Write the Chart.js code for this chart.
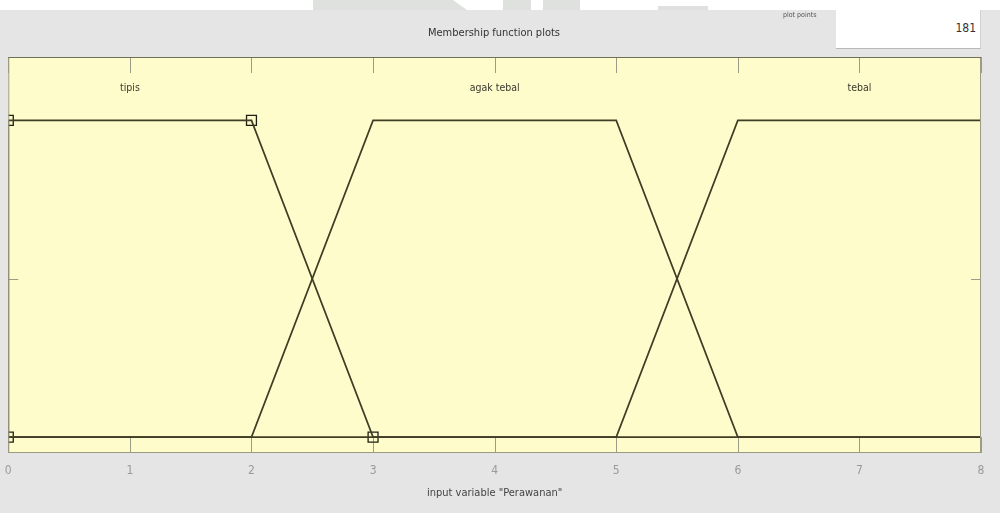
<!DOCTYPE html>
<html>
<head>
<meta charset="utf-8">
<script src="https://cdn.jsdelivr.net/npm/chart.js@4.4.1/dist/chart.umd.min.js"></script>
<style>
  html, body { margin: 0; padding: 0; }
  body { width: 1000px; height: 513px; background: #e5e5e5; position: relative; overflow: hidden;
         font-family: 'Liberation Sans Narrow', 'DejaVu Sans Condensed', 'Liberation Sans', sans-serif; }
  #topstrip { position: absolute; left: 0; top: 0; width: 1000px; height: 10px; background: #ffffff; }
  .shade { position: absolute; top: 0; height: 10px; background: #dfe1de; }
  #wrap { position: absolute; left: 0; top: 0; width: 1000px; height: 513px; }
  #figtitle { position: absolute; left: 0; width: 988px; top: 26px; text-align: center; font-size: 11px; color: #333; }
  #pplabel { position: absolute; left: 783px; top: 11px; font-size: 7px; color: #555; }
  #ppbox { position: absolute; left: 836px; top: 10px; width: 144px; height: 38px; background: #fff;
           border-bottom: 1px solid #b8b8b8; border-right: 1px solid #d0d0d0; }
  #ppval { position: absolute; right: 4px; top: 11px; font-size: 12px; color: #333; }
</style>
</head>
<body>
<div id="topstrip">
  <div class="shade" style="left:313px;width:140px;"></div>
  <div class="shade" style="left:453px;width:14px;clip-path:polygon(0 0,100% 100%,0 100%);"></div>
  <div class="shade" style="left:503px;width:28px;"></div>
  <div class="shade" style="left:543px;width:37px;"></div>
  <div class="shade" style="left:658px;width:50px;top:6px;height:4px;"></div>
</div>
<div id="wrap"><canvas id="mf-chart" width="1000" height="513"></canvas></div>
<div id="figtitle">Membership function plots</div>
<div id="pplabel">plot points</div>
<div id="ppbox"><span id="ppval">181</span></div>

<script>
// input range and ticks
const xMin = 0;
const xMax = 8;
const xTicks = [0, 1, 2, 3, 4, 5, 6, 7, 8];
const yTicks = [0, 0.5, 1];
const inputName = 'input variable "Perawanan"';

// membership functions (trapmf params) and their outlines
const mfNames = ['tipis', 'agak tebal', 'tebal'];
const mfParams = [[0, 0, 2, 3], [2, 3, 5, 6], [5, 6, 8, 8]];
const tipisX = [0, 0, 2, 3, 8];
const tipisY = [0, 1, 1, 0, 0];
const agakX = [0, 2, 3, 5, 6, 8];
const agakY = [0, 0, 1, 1, 0, 0];
const tebalX = [0, 5, 6, 8];
const tebalY = [0, 0, 1, 1];
// edit handles of the selected function (tipis)
const handleX = [0, 0, 2, 3];
const handleY = [0, 1, 1, 0];

function toPoints(xs, ys) {
  return xs.map(function (x, i) { return { x: x, y: ys[i] }; });
}

const lineColor = '#3e3d25';
const frameColor = '#9c9c86';
const narrowFont = '"Liberation Sans Narrow", "DejaVu Sans Condensed", sans-serif';

// yellow axes background, frame, inward ticks and MF names
const axesDecor = {
  id: 'axesDecor',
  beforeDatasetsDraw: function (chart) {
    const a = chart.chartArea, ctx = chart.ctx;
    const xs = chart.scales.x, ys = chart.scales.y;
    ctx.save();
    ctx.fillStyle = '#fefcca';
    ctx.fillRect(a.left, a.top, a.right - a.left, a.bottom - a.top);

    ctx.strokeStyle = frameColor;
    ctx.lineWidth = 1;
    xTicks.forEach(function (t) {
      const px = Math.round(xs.getPixelForValue(t)) + 0.5;
      ctx.beginPath();
      ctx.moveTo(px, a.top); ctx.lineTo(px, a.top + 16);
      ctx.moveTo(px, a.bottom); ctx.lineTo(px, a.bottom - 16);
      ctx.stroke();
    });
    yTicks.forEach(function (t) {
      const py = Math.round(ys.getPixelForValue(t)) + 0.5;
      ctx.beginPath();
      ctx.moveTo(a.left, py); ctx.lineTo(a.left + 10, py);
      ctx.moveTo(a.right, py); ctx.lineTo(a.right - 10, py);
      ctx.stroke();
    });

    ctx.fillStyle = '#3a3a30';
    ctx.font = '10.5px ' + narrowFont;
    ctx.textAlign = 'center';
    ctx.textBaseline = 'middle';
    mfNames.forEach(function (name, i) {
      const p = mfParams[i];
      ctx.fillText(name, xs.getPixelForValue((p[1] + p[2]) / 2), ys.getPixelForValue(1.1));
    });
    ctx.restore();
  },
  afterDatasetsDraw: function (chart) {
    const a = chart.chartArea, ctx = chart.ctx;
    ctx.save();
    ctx.strokeStyle = frameColor;
    ctx.lineWidth = 1;
    ctx.strokeRect(a.left + 0.5, a.top + 0.5, a.right - a.left - 1, a.bottom - a.top - 1);
    ctx.strokeStyle = '#6f6f55';
    ctx.beginPath();
    ctx.moveTo(a.left, a.top + 0.5); ctx.lineTo(a.right, a.top + 0.5);
    ctx.stroke();
    ctx.restore();
  }
};

const lineStyle = {
  showLine: true,
  borderColor: lineColor,
  borderWidth: 1.7,
  pointRadius: 0,
  fill: false,
  tension: 0
};

new Chart(document.getElementById('mf-chart'), {
  type: 'scatter',
  data: {
    datasets: [
      Object.assign({ label: mfNames[0], data: toPoints(tipisX, tipisY) }, lineStyle),
      Object.assign({ label: mfNames[1], data: toPoints(agakX, agakY) }, lineStyle),
      Object.assign({ label: mfNames[2], data: toPoints(tebalX, tebalY) }, lineStyle),
      {
        label: 'handles',
        data: toPoints(handleX, handleY),
        showLine: false,
        pointStyle: 'rect',
        pointRadius: 7,
        pointBorderWidth: 1.3,
        pointBorderColor: '#1e1e14',
        pointBackgroundColor: 'rgba(0,0,0,0)'
      }
    ]
  },
  options: {
    responsive: false,
    animation: false,
    layout: { padding: { left: 7, right: 19, top: 57, bottom: 0 } },
    plugins: {
      legend: { display: false },
      tooltip: { enabled: false }
    },
    scales: {
      x: {
        type: 'linear',
        min: xMin,
        max: xMax,
        afterBuildTicks: function (scale) {
          scale.ticks = xTicks.map(function (v) { return { value: v }; });
        },
        afterFit: function (scale) { scale.height = 60; },
        border: { display: false },
        grid: { display: true, drawOnChartArea: false, drawTicks: true, tickLength: 11, color: 'rgba(0,0,0,0)' },
        ticks: {
          padding: 0,
          color: '#9a9a9a',
          font: { family: narrowFont, size: 12 },
          maxRotation: 0
        },
        title: {
          display: true,
          text: inputName,
          color: '#444',
          padding: { top: 0, bottom: 13 },
          font: { family: narrowFont, size: 11 }
        }
      },
      y: {
        display: false,
        min: -0.05,
        max: 1.2
      }
    }
  },
  plugins: [axesDecor]
});
</script>
</body>
</html>
